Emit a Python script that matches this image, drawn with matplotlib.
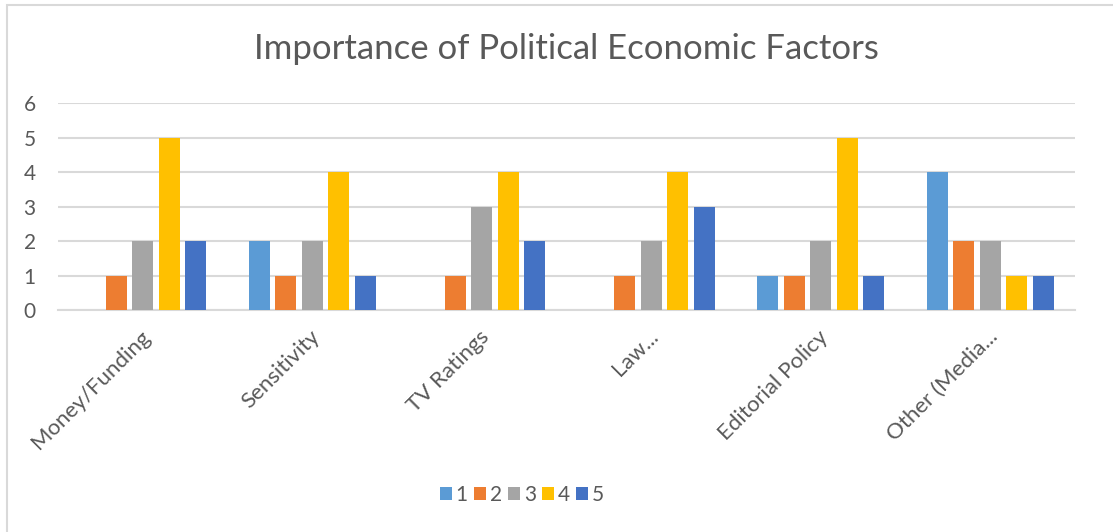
import numpy as np
import matplotlib.pyplot as plt
import matplotlib.transforms as mtransforms
from matplotlib.patches import Rectangle

# --- Data ---
categories = ["Money/Funding", "Sensitivity", "TV Ratings", "Law...",
              "Editorial Policy", "Other (Media..."]
series_names = ["1", "2", "3", "4", "5"]
s1 = [0, 2, 0, 0, 1, 4]
s2 = [1, 1, 1, 1, 1, 2]
s3 = [2, 2, 3, 2, 2, 2]
s4 = [5, 4, 4, 4, 5, 1]
s5 = [2, 1, 2, 3, 1, 1]
series = [s1, s2, s3, s4, s5]
colors = ["#5B9BD5", "#ED7D31", "#A5A5A5", "#FFC000", "#4472C4"]

plt.rcParams['font.family'] = ['Lato', 'DejaVu Sans']
txt = "#595959"

fig = plt.figure(figsize=(11.13, 5.32), dpi=100)
ax = fig.add_axes([0.0521, 0.4173, 0.9137, 0.389])

# chart border (light gray, runs off right/bottom edges)
fig.patches.append(Rectangle((7 / 1113, -0.05), 1.2, 1 - 5 / 532 + 0.05,
                             transform=fig.transFigure, fill=False,
                             edgecolor="#D9D9D9", linewidth=1.5))

x = np.arange(len(categories))
width = 0.124
step = 0.156
for i, (vals, name, c) in enumerate(zip(series, series_names, colors)):
    ax.bar(x + (i - 2) * step, vals, width, color=c, label=name, zorder=3)

ax.set_xlim(-0.5, len(categories) - 0.5)
ax.set_ylim(0, 6)
ax.set_yticks(range(7))
ax.yaxis.grid(True, color="#D9D9D9", linewidth=1.5, zorder=0)
for s in ["top", "right", "left"]:
    ax.spines[s].set_visible(False)
ax.spines["bottom"].set_color("#D9D9D9")
ax.spines["bottom"].set_linewidth(1.5)
ax.tick_params(axis="both", length=0, labelsize=15, colors=txt)
ax.tick_params(axis="y", pad=16)
ax.set_xticks(x)
ax.set_xticklabels(categories, rotation=45, ha="right", va="top",
                   rotation_mode="anchor", fontsize=16)
ax.tick_params(axis="x", pad=12)
shift = mtransforms.ScaledTranslation(-3 / 100, 0, fig.dpi_scale_trans)
for lbl in ax.get_xticklabels():
    lbl.set_transform(lbl.get_transform() + shift)

fig.text(0.509, 0.908, "Importance of Political Economic Factors",
         ha="center", va="center", fontsize=25, color=txt)

fig.legend(loc="center", bbox_to_anchor=(0.469, 0.0695), ncol=5, frameon=False,
           fontsize=15, labelcolor=txt, handlelength=0.55, handleheight=0.55,
           handletextpad=0.2, columnspacing=0.3, borderaxespad=0)

fig.savefig("out.png", dpi=100)
